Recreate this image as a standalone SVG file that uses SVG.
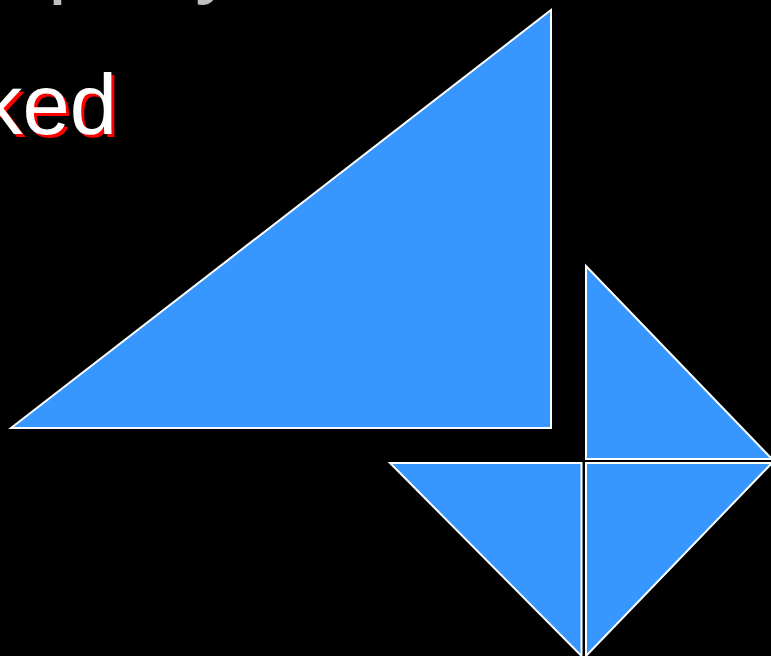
<svg xmlns="http://www.w3.org/2000/svg" width="771" height="656" viewBox="0 0 771 656">
<style>
.tri{fill:#3797fe;stroke:#ffffff;stroke-width:2;stroke-linejoin:miter}
.t{font-family:"Liberation Sans",Arial,sans-serif;font-size:85px}
</style>
<rect width="771" height="656" fill="#000"/>
<g id="title">
<text class="t" x="48" y="-13" fill="#c0c0c0">p</text>
<text class="t" x="195" y="-13" fill="#c0c0c0">y</text>
</g>
<g id="label">
<text class="t" x="120" y="137" text-anchor="end" fill="#ff0000">ked</text>
<text class="t" x="117" y="134" text-anchor="end" fill="#ffffff">ked</text>
</g>
<g id="big-triangle"><polygon class="tri" points="11,428 551,10 551,428"/></g>
<g id="top-right-triangle"><polygon class="tri" points="586,266 586,459 772,459"/></g>
<g id="bottom-left-triangle"><polygon class="tri" points="390,463 581.5,463 581.5,656"/></g>
<g id="bottom-right-triangle"><polygon class="tri" points="586,463 772,463 586,656"/></g>
</svg>
